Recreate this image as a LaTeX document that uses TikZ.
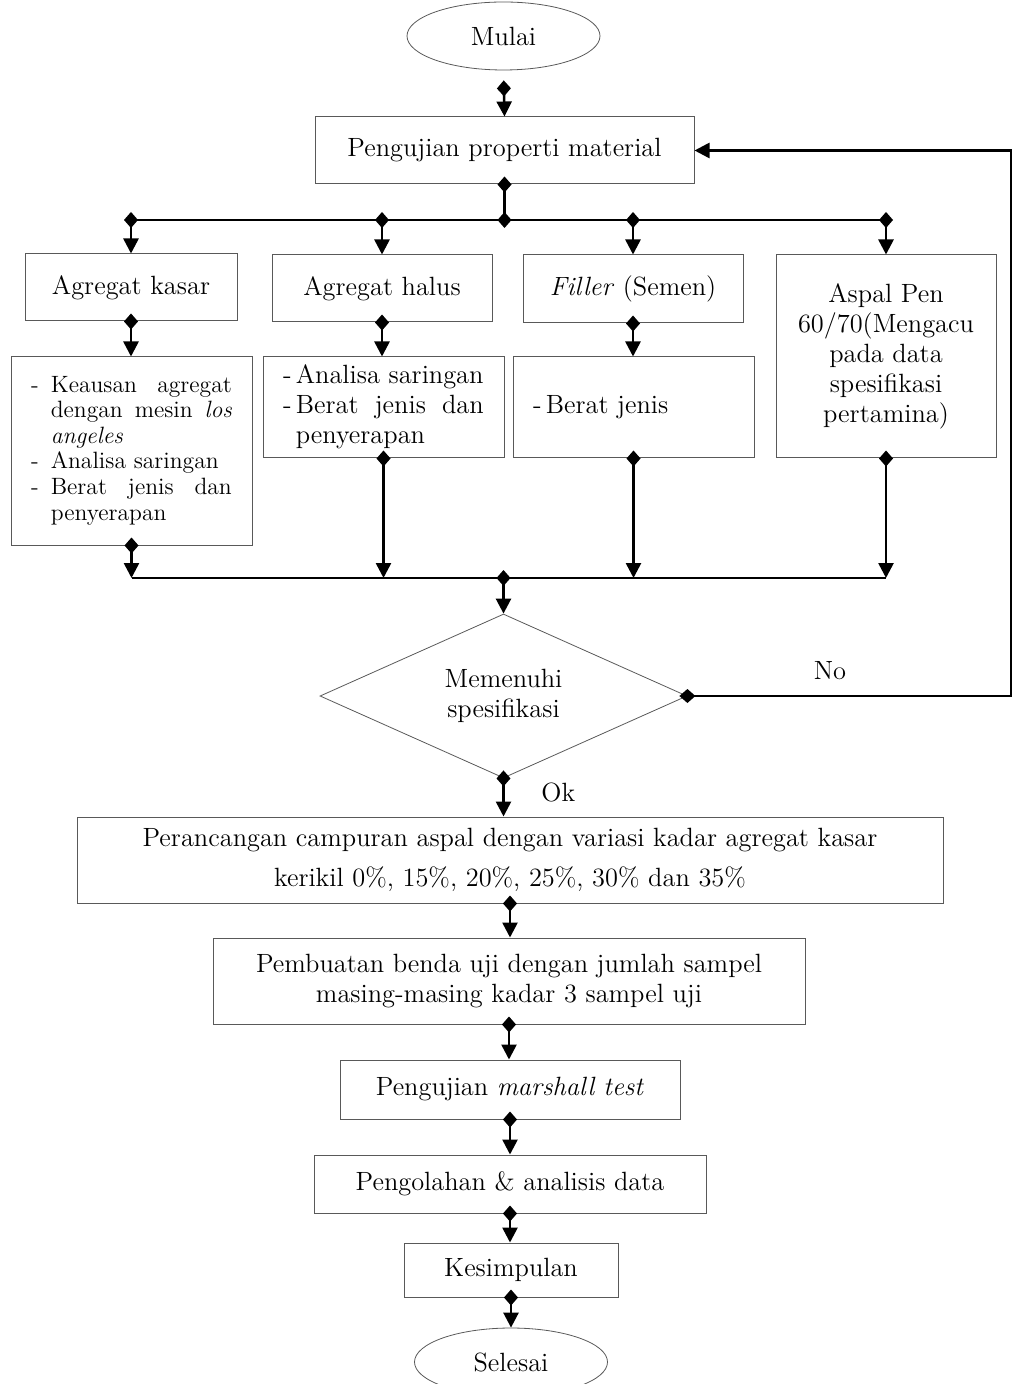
\documentclass[tikz,border=0pt]{standalone}
\usetikzlibrary{arrows.meta,shapes.geometric}
\begin{document}
\begin{tikzpicture}[x=0.5pt,y=-0.5pt,
    font=\fontsize{13.2}{15}\selectfont,
    box/.style={draw=black!65, line width=0.5pt, inner sep=0pt},
    term/.style={draw=black!65, line width=0.4pt, ellipse, minimum width=96.5pt, minimum height=34pt, inner sep=0pt},
    decision/.style={draw=black!65, line width=0.4pt, diamond, aspect=2.2, inner sep=0pt, align=center},
    small/.style={font=\fontsize{11.8}{12.8}\selectfont},
    flow/.style={line width=1.3pt, {Diamond[length=8pt,width=7pt]}-{Triangle[length=7.5pt,width=7.5pt]}, shorten <=-4pt},
    bus/.style={line width=1.3pt}]
    \useasboundingbox (0,0) rectangle (1013,1384);
    \hyphenpenalty=10000

    % Start
    \node[term] (mulai) at (503.5,36) {Mulai};

    % Material testing
    \node[box, minimum width=189.5pt, minimum height=33.5pt] (props) at (504.5,150.5) {Pengujian properti material};

    % Materials
    \node[box, minimum width=106pt, minimum height=33.5pt] (kasar) at (131,287.5) {Agregat kasar};
    \node[box, minimum width=110pt, minimum height=33.5pt] (halus) at (382,288.5) {Agregat halus};
    \node[box, minimum width=110pt, minimum height=34pt] (filler) at (633,289) {\textit{Filler} (Semen)};
    \node[box, minimum width=110pt, minimum height=101.5pt, align=center] (aspal) at (886,356.5) {Aspal Pen\\60/70(Mengacu\\pada data\\spesifikasi\\pertamina)};

    % Tests
    \node[box, small, minimum width=120.5pt, minimum height=94pt] (kasarD) at (131.5,451)
        {\begin{tabular}{@{}l@{\hspace{6pt}}p{90.5pt}@{}}
        -&Keausan agregat dengan mesin \textit{los angeles}\\
        -&Analisa saringan\\
        -&Berat jenis dan penyerapan
        \end{tabular}};
    \node[box, minimum width=120.5pt, minimum height=50.5pt] (halusD) at (383.5,407.5)
        {\begin{tabular}{@{}l@{\hspace{2pt}}p{94pt}@{}}
        -&Analisa saringan\\
        -&Berat jenis dan penyerapan
        \end{tabular}};
    \node[box, minimum width=120.5pt, minimum height=50.5pt] (fillerD) at (633.5,407.5)
        {\begin{tabular}{@{}l@{\hspace{2pt}}p{94pt}@{}}
        -&Berat jenis
        \end{tabular}};

    % Decision
    \node[decision, minimum width=183.5pt, minimum height=82pt] (check) at (503.5,696) {Memenuhi\\spesifikasi};
    \node (no) at (830,671) {No};

    % Mix design and testing
    \node[box, minimum width=433pt, minimum height=43pt, align=center] (design) at (510,860)
        {Perancangan campuran aspal dengan variasi kadar agregat kasar\\[5pt]kerikil 0\%, 15\%, 20\%, 25\%, 30\% dan 35\%};
    \node[box, minimum width=296pt, minimum height=43pt, align=center] (sample) at (509,981)
        {Pembuatan benda uji dengan jumlah sampel\\masing-masing kadar 3 sampel uji};
    \node[box, minimum width=170pt, minimum height=29.5pt] (marshall) at (510,1089.5) {Pengujian \textit{marshall test}};
    \node[box, minimum width=196pt, minimum height=29pt] (olah) at (510,1184) {Pengolahan \& analisis data};
    \node[box, minimum width=107pt, minimum height=27pt] (simpul) at (511,1270) {Kesimpulan};

    % End
    \node[term] (selesai) at (511,1362) {Selesai};

    % Bus coordinates
    \coordinate (busA) at (505,220);
    \coordinate (busB) at (503.5,578);
    \coordinate (loop) at (1011,400);

    % Connections
    \draw[flow, shorten <=5pt] (mulai.south) -- (props.north);
    \draw[bus, {Diamond[length=8pt,width=7pt]}-{Diamond[length=8pt,width=7pt]}, shorten <=-4pt, shorten >=-4pt] (props.south) -- (props.south |- busA);
    \draw[bus] (busA -| kasar) -- (busA -| aspal);
    \draw[flow] (busA -| kasar) -- (kasar.north);
    \draw[flow] (busA -| halus) -- (halus.north);
    \draw[flow] (busA -| filler) -- (filler.north);
    \draw[flow] (busA -| aspal) -- (aspal.north);

    \draw[flow] (kasar.south) -- (kasar.south |- kasarD.north);
    \draw[flow] (halus.south) -- (halus.south |- halusD.north);
    \draw[flow] (filler.south) -- (filler.south |- fillerD.north);

    \draw[flow] (kasarD.south) -- (kasarD.south |- busB);
    \draw[flow] (halusD.south) -- (halusD.south |- busB);
    \draw[flow] (fillerD.south) -- (fillerD.south |- busB);
    \draw[flow] (aspal.south) -- (aspal.south |- busB);
    \draw[bus] (busB -| kasarD) -- (busB -| aspal);
    \draw[flow] (busB) -- (check.north);

    % Feedback
    \draw[flow] (check.east) -- (check.east -| loop) |- (props.east);

    \draw[flow] (check.south) -- (check.south |- design.north) node (ok) [pos=0.38, right=15pt] {Ok};
    \draw[flow] (design.south) -- (design.south |- sample.north);
    \draw[flow] (sample.south) -- (sample.south |- marshall.north);
    \draw[flow] (marshall.south) -- (marshall.south |- olah.north);
    \draw[flow] (olah.south) -- (olah.south |- simpul.north);
    \draw[flow] (simpul.south) -- (simpul.south |- selesai.north);
\end{tikzpicture}
\end{document}
